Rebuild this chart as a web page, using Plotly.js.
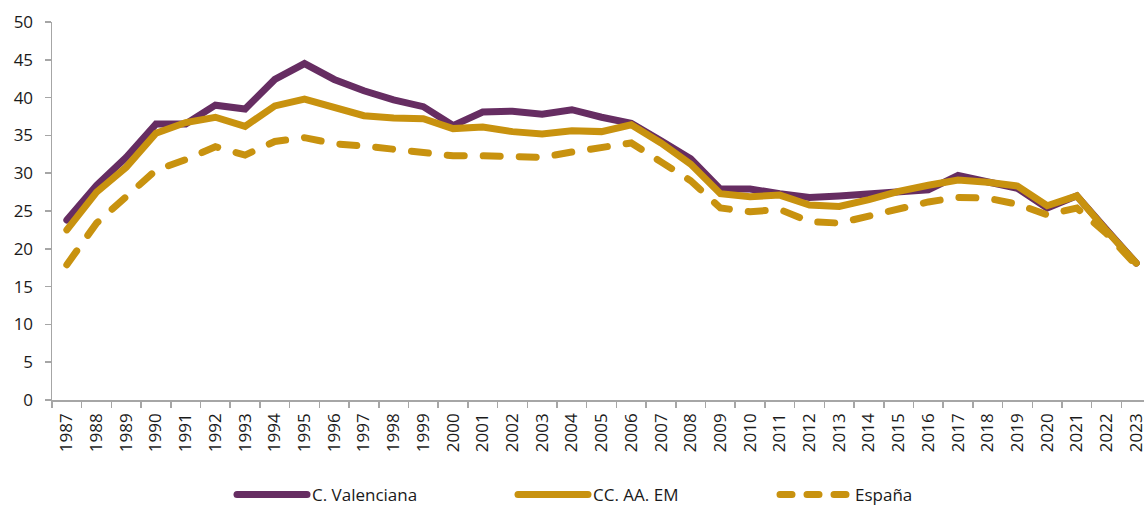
<!DOCTYPE html>
<html>
<head>
<meta charset="utf-8">
<script src="https://cdn.plot.ly/plotly-3.0.1.min.js"></script>
<style>
html,body{margin:0;padding:0;background:#fff;}
#chart{width:1144px;height:505px;}
.scatterlayer .js-line, .infolayer path { stroke-linecap: round !important; }
.infolayer path[style*="17px"] { stroke-dasharray: 12px 15px !important; }
</style>
</head>
<body>
<div id="chart"></div>
<script>
const years = ["1987","1988","1989","1990","1991","1992","1993","1994","1995","1996","1997","1998","1999","2000","2001","2002","2003","2004","2005","2006","2007","2008","2009","2010","2011","2012","2013","2014","2015","2016","2017","2018","2019","2020","2021","2022","2023"];
const cValenciana = [23.8,28.4,32.1,36.5,36.5,39.0,38.5,42.4,44.5,42.4,40.9,39.7,38.8,36.3,38.1,38.2,37.8,38.4,37.4,36.6,34.3,31.9,27.9,27.9,27.3,26.8,27.0,27.2,27.6,27.8,29.7,28.9,28.0,25.4,27.0,22.5,18.1];
const ccaaEM = [22.5,27.5,30.8,35.3,36.7,37.4,36.2,38.9,39.8,38.6,37.6,37.3,37.2,35.9,36.1,35.5,35.2,35.6,35.5,36.4,34.0,31.2,27.3,26.9,27.1,25.8,25.6,26.5,27.6,28.4,29.1,28.8,28.3,25.7,27.0,22.4,18.1];
const espana = [17.9,23.4,26.9,30.4,31.8,33.5,32.4,34.2,34.7,33.9,33.6,33.1,32.7,32.3,32.3,32.1,32.1,32.8,33.5,34.0,31.5,29.0,25.4,24.9,25.2,23.6,23.4,24.3,25.4,26.2,26.8,26.7,25.9,24.5,25.4,22.0,17.8];
const seriesNames = ["C. Valenciana","CC. AA. EM","España"];

const purple = "#662D62";
const gold = "#C8920F";
const font = "'Open Sans', 'Noto Sans', sans-serif";

const traces = [
  {x: years, y: cValenciana, name: seriesNames[0], type: "scatter", mode: "lines",
   line: {color: purple, width: 7}, legend: "legend"},
  {x: years, y: ccaaEM, name: seriesNames[1], type: "scatter", mode: "lines",
   line: {color: gold, width: 7}, legend: "legend2"},
  {x: years, y: espana, name: seriesNames[2], type: "scatter", mode: "lines",
   line: {color: gold, width: 7, dash: "17px,19px"}, legend: "legend3"}
];

const legendBase = {orientation: "h", yanchor: "middle", xanchor: "left",
  xref: "container", yref: "container", y: 0.02,
  font: {family: font, size: 17, color: "#1a1a1a"}, itemwidth: 70, bgcolor: "rgba(0,0,0,0)"};

const layout = {
  width: 1144, height: 505,
  margin: {l: 52, r: 0, t: 22, b: 105, autoexpand: false},
  paper_bgcolor: "#fff", plot_bgcolor: "#fff",
  font: {family: font, size: 17, color: "#1a1a1a"},
  showlegend: true,
  legend: Object.assign({}, legendBase, {x: 232 / 1144}),
  legend2: Object.assign({}, legendBase, {x: 513 / 1144}),
  legend3: Object.assign({}, legendBase, {x: 775 / 1144}),
  xaxis: {type: "category", range: [-0.5, 36.26], tickson: "boundaries",
    ticks: "outside", ticklen: 6, tickcolor: "#A6A6A6", tickwidth: 1.5,
    showline: true, linecolor: "#A6A6A6", linewidth: 1.5,
    showgrid: false, zeroline: false, tickangle: -90, ticklabelstandoff: 5,
    tickfont: {family: font, size: 17, color: "#1a1a1a"}},
  yaxis: {range: [0, 50], tickmode: "array", tickvals: [0,5,10,15,20,25,30,35,40,45,50],
    ticks: "outside", ticklen: 6, tickcolor: "#A6A6A6", tickwidth: 1.5,
    showline: true, linecolor: "#A6A6A6", linewidth: 1.5,
    showgrid: false, zeroline: false, ticklabelstandoff: 8,
    tickfont: {family: font, size: 17, color: "#1a1a1a"}}
};

Plotly.newPlot("chart", traces, layout, {displayModeBar: false, staticPlot: true});
</script>
</body>
</html>
